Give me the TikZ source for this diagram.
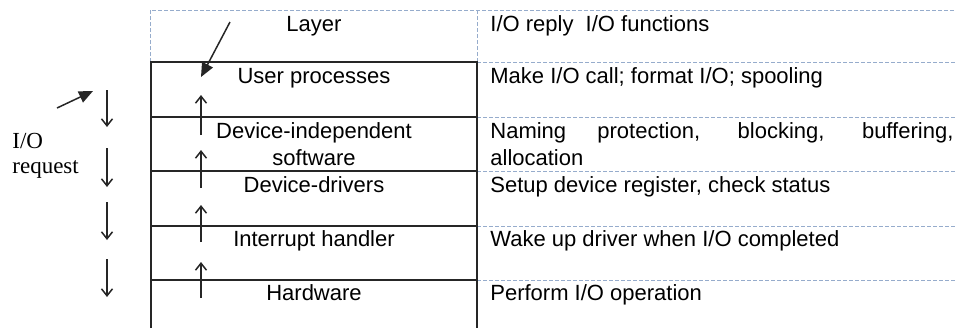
\documentclass[tikz,border=0pt]{standalone}
\usepackage{fontspec}
\setmainfont{Liberation Sans}
\newfontfamily\reqfont{Liberation Serif}
\usetikzlibrary{arrows.meta}
\definecolor{gridblue}{RGB}{150,172,204}

\begin{document}
\begin{tikzpicture}[x=0.5pt, y=-0.5pt]
\tikzset{
  layer/.style={anchor=base, inner sep=0pt, align=center, font=\fontsize{11}{13.5}\selectfont},
  task/.style={anchor=base west, inner sep=0pt, align=left, font=\fontsize{11}{13.5}\selectfont},
  request/.style={anchor=base west, inner sep=0pt, align=left, font=\reqfont\fontsize{11.5}{12.5}\selectfont},
  rule/.style={line width=0.75pt, draw=black!85},
  grid/.style={line width=0.5pt, draw=gridblue, dash pattern=on 2pt off 1pt},
  step arrow/.style={-{Straight Barb[length=3.5pt,width=5.5pt]}, line width=0.75pt, draw=black!85},
  pointer/.style={-{Triangle[length=7pt,width=6pt]}, line width=0.75pt, draw=black!85}
}
\useasboundingbox (0,0) rectangle (955,328);

% table rules
\draw[grid] (150,62) -- (150,10) -- (955,10);
\draw[grid] (477,10) -- (477,62);
\draw[grid] (477,62) -- (955,62);
\draw[grid] (477,117) -- (955,117);
\draw[grid] (477,171) -- (955,171);
\draw[grid] (477,226) -- (955,226);
\draw[grid] (477,280) -- (955,280);
\draw[rule] (151,328) -- (151,62) -- (477,62) -- (477,328);
\draw[rule] (151,117) -- (477,117);
\draw[rule] (151,171) -- (477,171);
\draw[rule] (151,226) -- (477,226);
\draw[rule] (151,280) -- (477,280);

% layers (base = last line)
\node[layer] (layer) at (314,31) {Layer};
\node[layer] (user) at (314,83) {User processes};
\node[layer] (indep) at (314,165) {Device-independent\\software};
\node[layer] (drivers) at (314,192) {Device-drivers};
\node[layer] (intr) at (314,246) {Interrupt handler};
\node[layer] (hw) at (314,300) {Hardware};

% functions
\node[task] (func) at (490,31) {I/O reply\ \ I/O functions};
\node[task] (call) at (490,83) {Make I/O call; format I/O; spooling};
\node[task] (naming) at (490,165) {\makebox[231.5pt][s]{Naming protection, blocking, buffering,}\\allocation};
\node[task] (setup) at (490,192) {Setup device register, check status};
\node[task] (wake) at (490,246) {Wake up driver when I/O completed};
\node[task] (perform) at (490,300) {Perform I/O operation};

\node[request] (req) at (12,173) {I/O\\request};

% reply arrows
\coordinate (up1) at (201,135); \coordinate (up1 end) at (201,95);
\coordinate (up2) at (201,188); \coordinate (up2 end) at (201,150);
\coordinate (up3) at (201,242); \coordinate (up3 end) at (201,205);
\coordinate (up4) at (201,298); \coordinate (up4 end) at (201,262);
\draw[step arrow] (up1) -- (up1 end);
\draw[step arrow] (up2) -- (up2 end);
\draw[step arrow] (up3) -- (up3 end);
\draw[step arrow] (up4) -- (up4 end);

% request arrows
\coordinate (down1) at (107,90); \coordinate (down1 end) at (107,127);
\coordinate (down2) at (107,148); \coordinate (down2 end) at (107,187);
\coordinate (down3) at (107,202); \coordinate (down3 end) at (107,240);
\coordinate (down4) at (107,259); \coordinate (down4 end) at (107,297);
\draw[step arrow] (down1) -- (down1 end);
\draw[step arrow] (down2) -- (down2 end);
\draw[step arrow] (down3) -- (down3 end);
\draw[step arrow] (down4) -- (down4 end);

% pointers
\coordinate (layer tail) at (230,22); \coordinate (layer tip) at (201,77);
\coordinate (req tail) at (57,108); \coordinate (req tip) at (93,91);
\draw[pointer] (layer tail) -- (layer tip);
\draw[pointer] (req tail) -- (req tip);
\end{tikzpicture}
\end{document}
